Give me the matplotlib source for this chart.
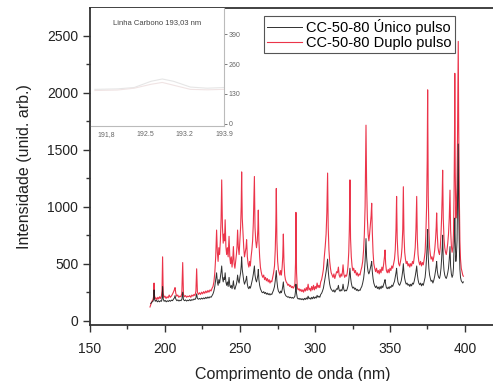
import matplotlib

matplotlib.use("Agg")
import matplotlib.pyplot as plt
from matplotlib.ticker import MultipleLocator

plt.rcParams["font.family"] = ["Liberation Sans", "DejaVu Sans"]

# CC-50-80 duplo pulso (red): (nm, intensity)
duplo_pts = [
    (190.0, 120), (190.5, 140), (191.0, 160), (191.5, 175), (192.0, 185), (192.4, 210),
    (192.7, 330), (193.0, 220), (193.5, 190), (194.0, 200), (194.6, 185), (195.2, 205),
    (195.8, 190), (196.4, 210), (197.0, 195), (197.6, 215), (198.0, 260), (198.4, 560),
    (198.8, 240), (199.3, 205), (200.0, 215), (200.7, 195), (201.4, 210), (202.1, 200),
    (202.8, 225), (203.5, 205), (204.2, 215), (204.9, 230), (205.6, 250), (206.2, 270),
    (206.7, 290), (207.2, 240), (207.8, 215), (208.5, 225), (209.2, 205), (209.9, 215),
    (210.6, 210), (211.2, 240), (211.8, 510), (212.3, 230), (213.0, 210), (213.7, 220),
    (214.4, 205), (215.1, 215), (215.8, 210), (216.5, 220), (217.2, 205), (217.9, 225),
    (218.6, 215), (219.3, 230), (220.0, 220), (220.6, 260), (221.1, 455), (221.6, 250),
    (222.3, 230), (223.0, 245), (223.7, 230), (224.4, 250), (225.1, 235), (225.8, 255),
    (226.5, 240), (227.2, 260), (227.9, 245), (228.6, 265), (229.3, 250), (230.0, 270),
    (230.7, 260), (231.4, 285), (232.0, 300), (232.6, 340), (233.2, 420), (233.8, 560),
    (234.4, 795), (234.9, 600), (235.4, 520), (235.9, 640), (236.4, 580), (236.9, 700),
    (237.4, 900), (237.8, 1235), (238.3, 820), (238.8, 680), (239.3, 760), (239.7, 700),
    (240.1, 885), (240.6, 650), (241.1, 580), (241.6, 640), (242.1, 560), (242.7, 740),
    (243.2, 560), (243.7, 500), (244.2, 560), (244.7, 470), (245.2, 540), (245.6, 650),
    (246.1, 500), (246.6, 460), (247.1, 520), (247.6, 580), (248.0, 650), (248.4, 795),
    (248.9, 640), (249.4, 580), (249.9, 700), (250.4, 820), (250.8, 1000), (251.1, 1305),
    (251.5, 900), (252.0, 760), (252.5, 640), (253.0, 560), (253.5, 600), (254.0, 640),
    (254.4, 710), (254.9, 560), (255.4, 500), (255.9, 470), (256.4, 520), (256.9, 480),
    (257.4, 560), (257.9, 620), (258.4, 700), (258.9, 860), (259.6, 1265), (260.0, 820),
    (260.5, 700), (261.0, 640), (261.5, 700), (261.9, 800), (262.2, 970), (262.6, 700),
    (263.1, 560), (263.6, 470), (264.1, 430), (264.6, 400), (265.2, 380), (265.8, 400),
    (266.4, 360), (267.0, 380), (267.6, 350), (268.2, 370), (268.8, 340), (269.4, 360),
    (270.0, 330), (270.6, 350), (271.2, 340), (271.8, 380), (272.4, 420), (273.0, 480),
    (273.5, 620), (273.9, 850), (274.2, 1160), (274.6, 700), (275.1, 520), (275.6, 450),
    (276.1, 420), (276.6, 400), (277.1, 440), (277.6, 400), (278.1, 470), (278.5, 560),
    (278.9, 760), (279.3, 520), (279.8, 400), (280.3, 360), (280.8, 340), (281.3, 330),
    (281.9, 310), (282.5, 320), (283.1, 300), (283.7, 310), (284.3, 290), (284.9, 300),
    (285.5, 285), (286.1, 300), (286.6, 320), (287.0, 500), (287.3, 950), (287.7, 420),
    (288.2, 290), (288.8, 270), (289.4, 280), (290.0, 260), (290.6, 275), (291.2, 255),
    (291.8, 270), (292.4, 250), (293.0, 280), (293.6, 260), (294.2, 290), (294.8, 265),
    (295.4, 320), (296.0, 270), (296.6, 285), (297.2, 260), (297.8, 300), (298.4, 270),
    (299.0, 310), (299.6, 270), (300.2, 300), (300.8, 280), (301.4, 330), (302.0, 290),
    (302.6, 310), (303.2, 290), (303.8, 340), (304.4, 360), (305.0, 400), (305.6, 450),
    (306.2, 560), (306.8, 650), (307.4, 760), (307.9, 950), (308.4, 1295), (308.8, 820),
    (309.3, 620), (309.8, 520), (310.3, 460), (310.8, 420), (311.4, 400), (312.0, 380),
    (312.6, 410), (313.2, 370), (313.8, 400), (314.4, 430), (315.0, 420), (315.6, 470),
    (316.1, 400), (316.7, 380), (317.3, 410), (317.9, 390), (318.3, 430), (318.7, 490),
    (319.2, 410), (319.8, 380), (320.4, 400), (321.0, 390), (321.5, 420), (322.0, 480),
    (322.5, 600), (322.9, 800), (323.3, 1235), (323.7, 720), (324.2, 560), (324.7, 480),
    (325.2, 440), (325.8, 460), (326.4, 420), (327.0, 440), (327.6, 400), (328.2, 420),
    (328.8, 390), (329.4, 410), (330.0, 400), (330.6, 440), (331.2, 470), (331.8, 520),
    (332.4, 620), (332.9, 760), (333.4, 1000), (334.0, 1715), (334.4, 1200), (334.9, 900),
    (335.4, 760), (335.9, 700), (336.4, 760), (336.9, 840), (337.4, 920), (337.8, 1030),
    (338.2, 780), (338.7, 600), (339.2, 500), (339.8, 460), (340.4, 430), (341.0, 460),
    (341.6, 420), (342.2, 440), (342.8, 410), (343.4, 450), (344.0, 420), (344.6, 470),
    (345.2, 440), (345.8, 500), (346.3, 560), (346.7, 620), (347.1, 500), (347.6, 440),
    (348.2, 420), (348.8, 450), (349.4, 420), (350.0, 460), (350.6, 440), (351.2, 480),
    (351.8, 460), (352.4, 500), (353.0, 540), (353.5, 620), (354.0, 800), (354.4, 1090),
    (354.8, 720), (355.3, 580), (355.8, 500), (356.4, 480), (357.0, 520), (357.5, 560),
    (358.0, 640), (358.5, 800), (358.9, 1175), (359.3, 760), (359.8, 600), (360.3, 540),
    (360.8, 500), (361.4, 520), (362.0, 480), (362.6, 500), (363.2, 470), (363.8, 500),
    (364.4, 480), (365.0, 520), (365.6, 500), (366.2, 560), (366.8, 640), (367.3, 800),
    (367.8, 1090), (368.2, 720), (368.7, 580), (369.2, 520), (369.8, 490), (370.4, 520),
    (371.0, 480), (371.6, 510), (372.2, 490), (372.8, 540), (373.4, 600), (373.9, 760),
    (374.4, 1000), (374.8, 1400), (375.1, 2025), (375.5, 1100), (375.9, 800), (376.4, 640),
    (376.9, 580), (377.4, 540), (378.0, 560), (378.6, 520), (379.2, 560), (379.8, 620),
    (380.4, 720), (380.8, 820), (381.1, 945), (381.5, 760), (382.0, 640), (382.5, 600),
    (383.0, 580), (383.5, 640), (384.0, 760), (384.4, 900), (384.8, 1100), (385.1, 1320),
    (385.5, 900), (386.0, 720), (386.5, 640), (387.0, 600), (387.5, 580), (388.0, 620),
    (388.5, 680), (389.0, 760), (389.5, 900), (390.0, 1145), (390.4, 800), (390.9, 660),
    (391.4, 600), (391.9, 640), (392.3, 760), (392.7, 1100), (393.0, 1600), (393.2, 2170),
    (393.5, 1300), (393.9, 900), (394.3, 1000), (394.7, 1200), (395.0, 1600), (395.3, 2100),
    (395.5, 2450), (395.8, 1700), (396.2, 1100), (396.6, 700), (397.0, 540), (397.5, 460),
    (398.0, 430), (398.5, 400), (398.9, 390),
]

# CC-50-80 unico pulso (black): (nm, intensity)
unico_pts = [
    (190.5, 150), (191.0, 160), (191.5, 165), (192.0, 170), (192.4, 190), (192.7, 270),
    (193.0, 190), (193.5, 170), (194.2, 180), (194.9, 165), (195.6, 175), (196.3, 165),
    (197.0, 175), (197.7, 170), (198.1, 200), (198.4, 300), (198.8, 190), (199.4, 170),
    (200.1, 178), (200.8, 165), (201.5, 175), (202.2, 168), (202.9, 178), (203.6, 170),
    (204.3, 180), (205.0, 175), (205.7, 190), (206.3, 200), (206.7, 220), (207.2, 190),
    (207.9, 175), (208.6, 182), (209.3, 172), (210.0, 180), (210.7, 175), (211.3, 190),
    (211.8, 250), (212.3, 185), (213.0, 175), (213.7, 182), (214.4, 172), (215.1, 180),
    (215.8, 175), (216.5, 185), (217.2, 175), (217.9, 185), (218.6, 180), (219.3, 190),
    (220.0, 185), (220.6, 200), (221.1, 235), (221.6, 195), (222.3, 188), (223.0, 195),
    (223.7, 188), (224.4, 198), (225.1, 190), (225.8, 200), (226.5, 192), (227.2, 205),
    (227.9, 195), (228.6, 208), (229.3, 198), (230.0, 210), (230.7, 205), (231.4, 220),
    (232.0, 235), (232.6, 260), (233.2, 300), (233.8, 360), (234.4, 420), (234.9, 340),
    (235.4, 310), (235.9, 360), (236.4, 330), (236.9, 380), (237.4, 430), (237.8, 480),
    (238.3, 380), (238.8, 340), (239.3, 380), (239.7, 360), (240.1, 420), (240.6, 340),
    (241.1, 310), (241.6, 340), (242.1, 300), (242.7, 380), (243.2, 310), (243.7, 290),
    (244.2, 310), (244.7, 280), (245.2, 310), (245.6, 350), (246.1, 290), (246.6, 275),
    (247.1, 300), (247.6, 320), (248.0, 350), (248.4, 400), (248.9, 350), (249.4, 330),
    (249.9, 380), (250.4, 420), (250.8, 480), (251.1, 560), (251.5, 450), (252.0, 400),
    (252.5, 350), (253.0, 320), (253.5, 340), (254.0, 360), (254.4, 390), (254.9, 320),
    (255.4, 290), (255.9, 280), (256.4, 300), (256.9, 285), (257.4, 310), (257.9, 340),
    (258.4, 370), (258.9, 410), (259.6, 480), (260.0, 400), (260.5, 360), (261.0, 340),
    (261.5, 370), (261.9, 400), (262.2, 450), (262.6, 360), (263.1, 310), (263.6, 280),
    (264.1, 265), (264.6, 250), (265.2, 245), (265.8, 255), (266.4, 238), (267.0, 248),
    (267.6, 232), (268.2, 242), (268.8, 228), (269.4, 238), (270.0, 225), (270.6, 235),
    (271.2, 230), (271.8, 250), (272.4, 270), (273.0, 300), (273.5, 350), (273.9, 400),
    (274.2, 440), (274.6, 350), (275.1, 290), (275.6, 260), (276.1, 250), (276.6, 240),
    (277.1, 260), (277.6, 245), (278.1, 270), (278.5, 300), (278.9, 340), (279.3, 280),
    (279.8, 240), (280.3, 225), (280.8, 215), (281.3, 212), (281.9, 205), (282.5, 210),
    (283.1, 200), (283.7, 206), (284.3, 198), (284.9, 204), (285.5, 196), (286.1, 204),
    (286.6, 215), (287.0, 260), (287.3, 320), (287.7, 240), (288.2, 200), (288.8, 190),
    (289.4, 196), (290.0, 186), (290.6, 194), (291.2, 184), (291.8, 192), (292.4, 182),
    (293.0, 196), (293.6, 186), (294.2, 200), (294.8, 188), (295.4, 215), (296.0, 192),
    (296.6, 200), (297.2, 188), (297.8, 205), (298.4, 192), (299.0, 210), (299.6, 195),
    (300.2, 208), (300.8, 198), (301.4, 222), (302.0, 205), (302.6, 215), (303.2, 205),
    (303.8, 230), (304.4, 240), (305.0, 260), (305.6, 285), (306.2, 330), (306.8, 380),
    (307.4, 430), (307.9, 480), (308.4, 540), (308.8, 440), (309.3, 370), (309.8, 320),
    (310.3, 290), (310.8, 275), (311.4, 265), (312.0, 255), (312.6, 270), (313.2, 250),
    (313.8, 265), (314.4, 280), (315.0, 275), (315.6, 310), (316.1, 270), (316.7, 258),
    (317.3, 272), (317.9, 262), (318.3, 285), (318.7, 320), (319.2, 275), (319.8, 258),
    (320.4, 268), (321.0, 262), (321.5, 280), (322.0, 305), (322.5, 350), (322.9, 410),
    (323.3, 460), (323.7, 380), (324.2, 330), (324.7, 300), (325.2, 285), (325.8, 295),
    (326.4, 275), (327.0, 285), (327.6, 265), (328.2, 275), (328.8, 260), (329.4, 270),
    (330.0, 265), (330.6, 285), (331.2, 300), (331.8, 330), (332.4, 370), (332.9, 430),
    (333.4, 520), (334.0, 720), (334.4, 560), (334.9, 480), (335.4, 430), (335.9, 410),
    (336.4, 430), (336.9, 460), (337.4, 490), (337.8, 520), (338.2, 430), (338.7, 370),
    (339.2, 330), (339.8, 305), (340.4, 290), (341.0, 305), (341.6, 282), (342.2, 295),
    (342.8, 275), (343.4, 300), (344.0, 280), (344.6, 305), (345.2, 290), (345.8, 320),
    (346.3, 340), (346.7, 360), (347.1, 320), (347.6, 290), (348.2, 280), (348.8, 295),
    (349.4, 280), (350.0, 300), (350.6, 290), (351.2, 312), (351.8, 300), (352.4, 325),
    (353.0, 345), (353.5, 380), (354.0, 420), (354.4, 460), (354.8, 390), (355.3, 340),
    (355.8, 320), (356.4, 310), (357.0, 330), (357.5, 350), (358.0, 390), (358.5, 440),
    (358.9, 500), (359.3, 420), (359.8, 370), (360.3, 340), (360.8, 320), (361.4, 330),
    (362.0, 310), (362.6, 320), (363.2, 300), (363.8, 320), (364.4, 305), (365.0, 330),
    (365.6, 320), (366.2, 350), (366.8, 390), (367.3, 430), (367.8, 480), (368.2, 410),
    (368.7, 360), (369.2, 330), (369.8, 315), (370.4, 330), (371.0, 305), (371.6, 325),
    (372.2, 310), (372.8, 345), (373.4, 380), (373.9, 450), (374.4, 560), (374.8, 680),
    (375.1, 800), (375.5, 560), (375.9, 460), (376.4, 400), (376.9, 370), (377.4, 345),
    (378.0, 355), (378.6, 330), (379.2, 355), (379.8, 390), (380.4, 440), (380.8, 480),
    (381.1, 520), (381.5, 440), (382.0, 400), (382.5, 380), (383.0, 370), (383.5, 400),
    (384.0, 460), (384.4, 540), (384.8, 640), (385.1, 750), (385.5, 540), (386.0, 440),
    (386.5, 400), (387.0, 380), (387.5, 370), (388.0, 390), (388.5, 420), (389.0, 460),
    (389.5, 540), (390.0, 650), (390.4, 480), (390.9, 410), (391.4, 380), (391.9, 400),
    (392.3, 460), (392.7, 620), (393.0, 760), (393.2, 900), (393.5, 700), (393.9, 520),
    (394.3, 580), (394.7, 700), (395.0, 1000), (395.3, 1300), (395.5, 1550), (395.8, 1000),
    (396.2, 650), (396.6, 450), (397.0, 380), (397.5, 350), (398.0, 340), (398.5, 330),
    (398.9, 340),
]

# inset: Linha Carbono 193,03 nm
inset_nm = [191.6, 192.0, 192.3, 192.6, 192.8, 193.0, 193.3, 193.6, 193.9]
inset_a = [150, 152, 158, 185, 195, 185, 160, 155, 158]
inset_b = [145, 147, 155, 172, 180, 168, 150, 148, 150]
inset_ticks = [191.8, 192.5, 193.2, 193.9]
inset_labels = ["191,8", "192.5", "193.2", "193.9"]

duplo_nm, duplo_int = zip(*duplo_pts)
unico_nm, unico_int = zip(*unico_pts)

fig = plt.figure(figsize=(4.93, 3.81), dpi=100)
ax = fig.add_axes([90 / 493, 56 / 381, 405 / 493, 317 / 381])

ax.plot(duplo_nm, duplo_int, color="#e8102a", linewidth=0.8, alpha=0.85,
        label="CC-50-80 Duplo pulso")
ax.plot(unico_nm, unico_int, color="#1a1a1a", linewidth=0.7, alpha=0.9,
        label="CC-50-80 Único pulso")

ax.set_xlim(150, 420)
ax.set_ylim(-38, 2743)
ax.xaxis.set_major_locator(MultipleLocator(50))
ax.xaxis.set_minor_locator(MultipleLocator(25))
ax.yaxis.set_major_locator(MultipleLocator(500))
ax.yaxis.set_minor_locator(MultipleLocator(250))
ax.tick_params(which="major", direction="out", length=5, width=1,
               color="#333333", labelsize=10, labelcolor="#222222")
ax.tick_params(axis="x", which="major", pad=7)
ax.tick_params(which="minor", direction="out", length=3, width=1, color="#333333")
for side in ("left", "bottom", "top"):
    ax.spines[side].set_color("#333333")
    ax.spines[side].set_linewidth(1.3)
ax.spines["right"].set_visible(False)

ax.set_xlabel("Comprimento de onda (nm)", fontsize=11.5, color="#222222",
              labelpad=8)
ax.set_ylabel("Intensidade (unid. arb.)", fontsize=11.5, color="#222222",
              labelpad=11)

handles, labels = ax.get_legend_handles_labels()
leg = ax.legend(handles[::-1], labels[::-1], loc="upper right",
                bbox_to_anchor=(0.901, 0.975), borderaxespad=0,
                fontsize=10.5, fancybox=False, framealpha=1,
                edgecolor="#555555", handlelength=2.4, handletextpad=0.3,
                borderpad=0.2, labelspacing=0.1)
leg.get_frame().set_linewidth(0.8)

# inset
ins = fig.add_axes([91 / 493, 255 / 381, 133 / 493, 118 / 381])
ins.plot(inset_nm, inset_a, color="#e6e6e6", linewidth=0.8)
ins.plot(inset_nm, inset_b, color="#f0e4e4", linewidth=0.8)
ins.set_xlim(191.53, 193.9)
ins.set_ylim(-9, 503)
ins.set_xticks(inset_ticks)
ins.set_xticklabels(inset_labels)
ins.set_yticks([0, 130, 260, 390])
ins.yaxis.tick_right()
ins.tick_params(labelsize=5, colors="#666666", length=2, width=0.6,
                pad=1.5)
ins.tick_params(axis="x", bottom=False)
for side in ("left", "top"):
    ins.spines[side].set_visible(False)
for side in ("right", "bottom"):
    ins.spines[side].set_color("#bbbbbb")
    ins.spines[side].set_linewidth(0.8)
ins.text(0.5, 0.86, "Linha Carbono 193,03 nm", transform=ins.transAxes,
         ha="center", fontsize=5.5, color="#444444")

fig.savefig("out.png", dpi=100)
